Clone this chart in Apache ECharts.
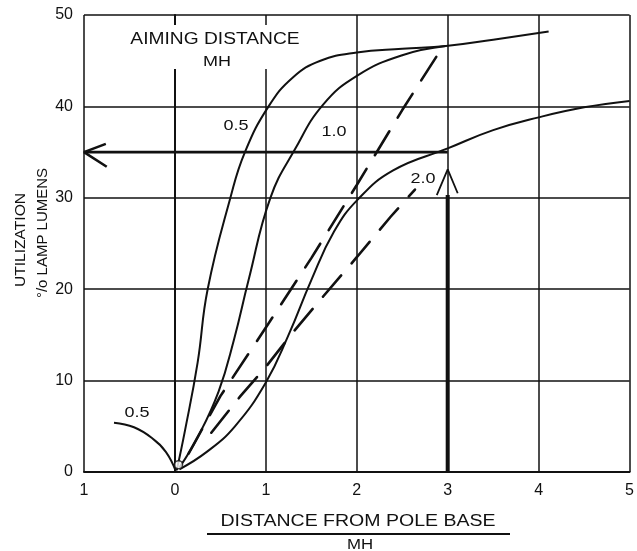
<!DOCTYPE html>
<html>
<head>
<meta charset="utf-8">
<script src="https://cdn.jsdelivr.net/npm/echarts@6/dist/echarts.min.js"></script>
<style>
html,body{margin:0;padding:0;background:#fff;}
#chart{width:637px;height:551px;}
</style>
</head>
<body>
<div id="chart"></div>
<script>
// ---- data ----
const xTickLabels = ['1', '0', '1', '2', '3', '4', '5'];
const yTicks = [0, 10, 20, 30, 40, 50];

// aiming distance 0.5 MH (solid)
const curve05 = [[0.02,0.2],[0.11,4.5],[0.25,12],[0.36,20],[0.61,30],[0.77,35],[1.03,40],[1.3,43.2],[1.6,45],[2.0,45.9],[2.5,46.3],[2.98,46.6],[3.5,47.3],[4.11,48.2]];
// aiming distance 0.5 MH, behind the pole (solid)
const curve05back = [[-0.67,5.4],[-0.45,4.9],[-0.25,3.7],[-0.1,2.2],[0.01,0.1]];
// aiming distance 1.0 MH (solid)
const curve10 = [[0.05,0.5],[0.25,3.8],[0.48,8.8],[0.65,14.5],[0.81,21],[1.05,30],[1.32,35.3],[1.63,40.2],[2.01,43.4],[2.5,45.6],[2.98,46.6]];
// aiming distance 2.0 MH (solid)
const curve20 = [[0.05,0.3],[0.35,2.2],[0.66,5],[1.0,9.8],[1.25,15],[1.5,21],[1.75,26.3],[2.01,29.8],[2.4,33],[3.0,35.4],[3.5,37.4],[4.0,38.8],[4.5,39.9],[5.0,40.6]];
// dashed curves
const dashedA = [[0.15,2],[0.5,8.3],[1.0,15.8],[1.5,23.4],[2.0,31.4],[2.5,39.6],[2.95,46.6]];
const dashedB = [[0.4,4.3],[0.72,8.3],[1.0,11.5],[1.3,15.3],[1.63,19.2],[2.0,23.5],[2.37,27.9],[2.64,30.9]];
// reading example arrows
const arrowH = [[3.0,35],[-1,35]];
const arrowHHead = [[-0.76,35.9],[-1,35],[-0.75,33.4]];
const arrowV = [[3.0,0],[3.0,30.3]];
const arrowVHead = [[2.88,30.3],[3.0,33.1],[3.11,30.5]];
const originMark = [[0.04,0.8]];

const FONT = 'Liberation Sans';
const INK = '#111';

const chart = echarts.init(document.getElementById('chart'), null, {renderer: 'canvas'});

function solid(data, w) {
  return {type: 'line', data: data, showSymbol: false, smooth: 0.45,
    lineStyle: {color: INK, width: w || 2}, silent: true, z: 3};
}
function dashed(data) {
  return {type: 'line', data: data, showSymbol: false, smooth: false,
    lineStyle: {color: INK, width: 2.6, type: [28, 16], cap: 'round'}, silent: true, z: 3};
}
function straight(data, w) {
  return {type: 'line', data: data, showSymbol: false, smooth: false,
    lineStyle: {color: INK, width: w}, silent: true, z: 4};
}

chart.setOption({
  backgroundColor: '#ffffff',
  animation: false,
  grid: {left: 84, right: 2, top: 15, bottom: 79, containLabel: false},
  xAxis: {
    type: 'value', min: -1, max: 5, interval: 1,
    axisLine: {show: true, lineStyle: {color: INK, width: 2}},
    axisTick: {show: false},
    splitLine: {show: true, showMinLine: true, showMaxLine: true, lineStyle: {color: INK, width: 1.5}},
    axisLabel: {show: true, margin: 11, fontSize: 16, color: INK, fontFamily: FONT,
      formatter: function (v) { return xTickLabels[Math.round(v) + 1]; }}
  },
  yAxis: {
    type: 'value', min: 0, max: 50, interval: 10,
    axisLine: {show: true, lineStyle: {color: INK, width: 2}},
    axisTick: {show: false},
    splitLine: {show: true, showMinLine: true, showMaxLine: true, lineStyle: {color: INK, width: 1.5}},
    axisLabel: {show: true, margin: 11, fontSize: 16, color: INK, fontFamily: FONT,
      formatter: function (v) { return yTicks.indexOf(v) >= 0 ? String(v) : ''; }}
  },
  series: [
    solid(curve05),
    solid(curve05back),
    solid(curve10),
    solid(curve20),
    dashed(dashedA),
    dashed(dashedB),
    straight(arrowH, 2.6),
    straight(arrowHHead, 2.6),
    straight(arrowV, 4),
    straight(arrowVHead, 1.8),
    {type: 'scatter', data: originMark, symbol: 'circle', symbolSize: 8,
      itemStyle: {color: '#fff', borderColor: INK, borderWidth: 1.5}, silent: true, z: 5}
  ],
  graphic: [
    {type: 'rect', shape: {x: 124, y: 25, width: 178, height: 44}, style: {fill: '#fff'}, z: 50},
    {type: 'text', x: 215, y: 40, scaleX: 1.2, z: 51,
      style: {text: 'AIMING DISTANCE', font: '16px "' + FONT + '"', fill: INK, textAlign: 'center', textVerticalAlign: 'middle'}},
    {type: 'text', x: 217, y: 62, scaleX: 1.2, z: 51,
      style: {text: 'MH', font: '15px "' + FONT + '"', fill: INK, textAlign: 'center', textVerticalAlign: 'middle'}},
    {type: 'text', x: 236, y: 126, scaleX: 1.2, z: 51,
      style: {text: '0.5', font: '15px "' + FONT + '"', fill: INK, textAlign: 'center', textVerticalAlign: 'middle'}},
    {type: 'text', x: 334, y: 132, scaleX: 1.2, z: 51,
      style: {text: '1.0', font: '15px "' + FONT + '"', fill: INK, textAlign: 'center', textVerticalAlign: 'middle'}},
    {type: 'text', x: 423, y: 179, scaleX: 1.2, z: 51,
      style: {text: '2.0', font: '15px "' + FONT + '"', fill: INK, textAlign: 'center', textVerticalAlign: 'middle'}},
    {type: 'text', x: 137, y: 413, scaleX: 1.2, z: 51,
      style: {text: '0.5', font: '15px "' + FONT + '"', fill: INK, textAlign: 'center', textVerticalAlign: 'middle'}},
    {type: 'text', x: 21, y: 240, rotation: Math.PI / 2, scaleX: 1.04, z: 51,
      style: {text: 'UTILIZATION', font: '15px "' + FONT + '"', fill: INK, textAlign: 'center', textVerticalAlign: 'middle'}},
    {type: 'text', x: 43, y: 233, rotation: Math.PI / 2, z: 51,
      style: {text: '°/o LAMP LUMENS', font: '15px "' + FONT + '"', fill: INK, textAlign: 'center', textVerticalAlign: 'middle'}},
    {type: 'text', x: 358, y: 522, scaleX: 1.22, z: 51,
      style: {text: 'DISTANCE FROM POLE BASE', font: '16px "' + FONT + '"', fill: INK, textAlign: 'center', textVerticalAlign: 'middle'}},
    {type: 'line', shape: {x1: 207, y1: 534, x2: 510, y2: 534}, style: {stroke: INK, lineWidth: 2}, z: 51},
    {type: 'text', x: 360, y: 545, scaleX: 1.2, z: 51,
      style: {text: 'MH', font: '14px "' + FONT + '"', fill: INK, textAlign: 'center', textVerticalAlign: 'middle'}}
  ]
});
</script>
</body>
</html>
